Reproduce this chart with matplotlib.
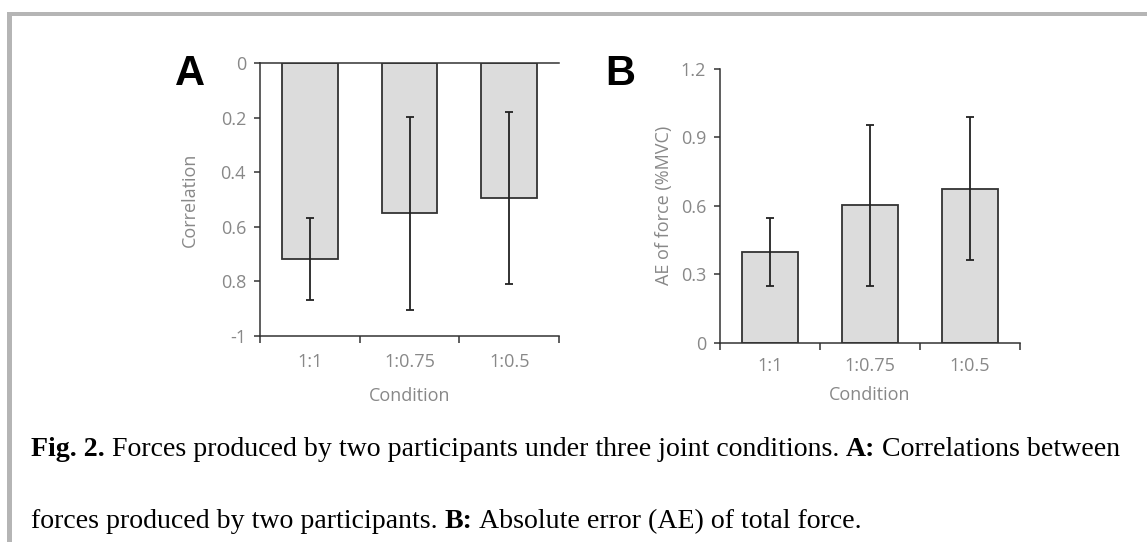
import numpy as np
import matplotlib.pyplot as plt
from matplotlib.patches import Rectangle

# data
conditions = ['1:1', '1:0.75', '1:0.5']
corr_mean = [-0.718, -0.550, -0.495]
corr_sd = [0.149, 0.353, 0.315]
ae_mean = [0.397, 0.602, 0.675]
ae_sd = [0.149, 0.354, 0.314]

corr_ticks = [0, -0.2, -0.4, -0.6, -0.8, -1]
corr_ticklabels = ['0', '0.2', '0.4', '0.6', '0.8', '-1']
ae_ticks = [0, 0.3, 0.6, 0.9, 1.2]
ae_ticklabels = ['0', '0.3', '0.6', '0.9', '1.2']

caption1 = [('Fig. 2.', True),
            ('Forces produced by two participants under three joint conditions.', False),
            ('A:', True), ('Correlations between', False)]
caption2 = [('forces produced by two participants.', False),
            ('B:', True), ('Absolute error (AE) of total force.', False)]

W, H = 1147, 542
GREY = '#888888'
DARK = '#333333'
plt.rcParams['font.family'] = ['Open Sans', 'DejaVu Sans']

fig = plt.figure(figsize=(W / 100, H / 100), dpi=100)


def px(l, t, r, b):
    return [l / W, 1 - b / H, (r - l) / W, (b - t) / H]


def bars(ax, means, sds, tpad, lpad):
    x = np.arange(len(conditions))
    ax.bar(x, means, width=0.56, color='#dcdcdc', edgecolor=DARK,
           linewidth=1.3, zorder=2)
    ax.errorbar(x, means, yerr=sds, fmt='none', ecolor='#222222',
                elinewidth=1.3, capsize=3, capthick=1.3, zorder=3)
    ax.set_xlim(-0.5, len(conditions) - 0.5)
    ax.set_xticks(x)
    ax.set_xticklabels(conditions)
    ax.set_xticks(np.arange(len(conditions) + 1) - 0.5, minor=True)
    ax.tick_params(axis='x', which='major', length=0, pad=tpad,
                   labelsize=13, labelcolor=GREY)
    ax.tick_params(axis='x', which='minor', length=5, width=1.1,
                   color=DARK, direction='out')
    ax.tick_params(axis='y', length=4, width=1.1, color=DARK,
                   direction='out', pad=6, labelsize=13, labelcolor=GREY)
    ax.set_xlabel('Condition', fontsize=13, color=GREY, labelpad=lpad)
    for s in ax.spines.values():
        s.set_linewidth(1.1)
        s.set_color(DARK)
    ax.spines['right'].set_visible(False)


# panel A
axA = fig.add_axes(px(260, 63, 559, 336))
bars(axA, corr_mean, corr_sd, 12, 12)
axA.set_ylim(-1, 0)
axA.set_yticks(corr_ticks)
axA.set_yticklabels(corr_ticklabels)
axA.set_ylabel('Correlation', fontsize=13, color=GREY)
axA.yaxis.set_label_coords(-0.205, 0.5)

# panel B
axB = fig.add_axes(px(720, 69, 1020, 342.7))
bars(axB, ae_mean, ae_sd, 10, 8.5)
axB.set_ylim(0, 1.2)
axB.set_yticks(ae_ticks)
axB.set_yticklabels(ae_ticklabels)
axB.spines['top'].set_visible(False)
axB.set_ylabel('AE of force (%MVC)', fontsize=13, color=GREY)
axB.yaxis.set_label_coords(-0.157, 0.5)

fig.text(190 / W, 1 - 85 / H, 'A', fontsize=30, weight='bold',
         family='Liberation Sans', ha='center', va='baseline')
fig.text(620 / W, 1 - 85 / H, 'B', fontsize=30, weight='bold',
         family='Liberation Sans', ha='center', va='baseline')

# caption with bold parts
renderer = fig.canvas.get_renderer()
cap_size = 20.1


def rich_line(ybase, parts, x0=31):
    x = x0
    space = 0.25 * cap_size / 0.72
    for s, bold in parts:
        t = fig.text(x / W, 1 - ybase / H, s, fontsize=cap_size,
                     family='Liberation Serif',
                     weight='bold' if bold else 'normal',
                     ha='left', va='baseline', color='black')
        x += t.get_window_extent(renderer=renderer).width + space


rich_line(456, caption1)
rich_line(528, caption2)

# grey frame
fig.add_artist(Rectangle((7 / W, 0), 5 / W, 1 - 12 / H,
                         transform=fig.transFigure, color='#b5b5b5', lw=0))
fig.add_artist(Rectangle((7 / W, 1 - 15.5 / H), 1 - 7 / W, 3.5 / H,
                         transform=fig.transFigure, color='#b5b5b5', lw=0))

fig.savefig('out.png', dpi=100)
